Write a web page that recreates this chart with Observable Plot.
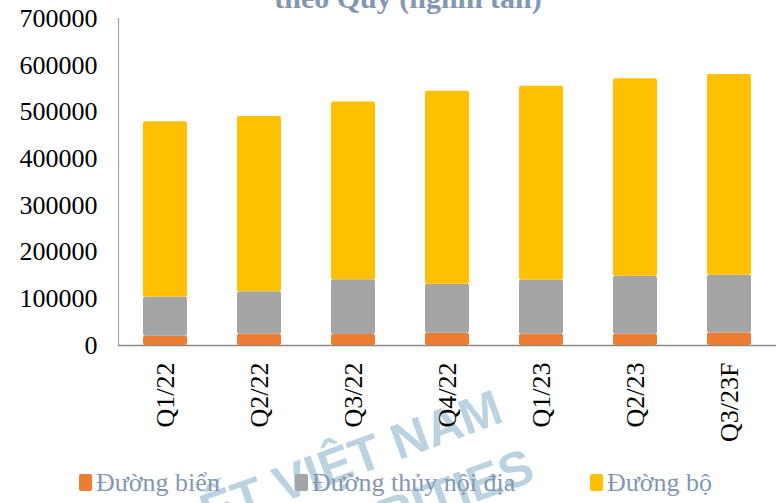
<!DOCTYPE html>
<html>
<head>
<meta charset="utf-8">
<script src="https://cdn.jsdelivr.net/npm/d3@7"></script>
<script src="https://cdn.jsdelivr.net/npm/@observablehq/plot@0.6"></script>
<style>
  html, body { margin: 0; padding: 0; background: #fff; }
  #wrap { position: relative; width: 784px; height: 503px; overflow: hidden; font-family: "Liberation Serif", "Times New Roman", serif; }
  #title { position: absolute; left: 0; width: 816px; top: -17px; line-height: 30px; text-align: center; font-size: 30px; font-weight: bold; color: #8497B0; white-space: nowrap; }
  #chart { position: absolute; left: 0; top: 0; }
  #wm { position: absolute; left: 0; top: 0; }
  #legend { position: absolute; left: 0; top: 0; width: 784px; height: 503px; pointer-events: none; }
  .li { position: absolute; top: 470px; font-size: 26px; line-height: 26px; color: #8497B0; white-space: nowrap; }
  .sw { position: absolute; top: 474px; width: 13px; height: 17px; border-radius: 2px; }
</style>
</head>
<body>
<div id="wrap">
  <svg id="wm" width="784" height="503" style="font-family:'Liberation Sans',Arial,sans-serif;font-weight:bold;font-size:50px;fill:#BBD3E0;">
    <text transform="translate(268,508) rotate(-20)" text-anchor="end">ẾT</text>
    <text transform="translate(281,503) rotate(-20)">VIỆT NAM</text>
    <text transform="translate(537,480) rotate(-20)" text-anchor="end">SECURITIES</text>
  </svg>
  <div id="chart"></div>
  <div id="title">theo Quý (nghìn tấn)</div>
  <div id="legend"></div>
</div>
<script>
const quarters = ["Q1/22", "Q2/22", "Q3/22", "Q4/22", "Q1/23", "Q2/23", "Q3/23F"];
const seriesNames = ["Đường biển", "Đường thủy nội địa", "Đường bộ"];
const seriesColors = ["#ED7D31", "#A5A5A5", "#FFC000"];
const duongBien = [20000, 24000, 23500, 26000, 24000, 24000, 27000];
const duongThuy = [84000, 91000, 117500, 105000, 116000, 124000, 123500];
const duongBo = [375000, 375000, 380000, 413000, 415000, 423000, 429500];
const yTicks = [0, 100000, 200000, 300000, 400000, 500000, 600000, 700000];

const seriesValues = [duongBien, duongThuy, duongBo];
const rows = [];
seriesNames.forEach((s, si) => {
  quarters.forEach((q, qi) => rows.push({quarter: q, series: s, value: seriesValues[si][qi]}));
});

const chart = Plot.plot({
  width: 784,
  height: 460,
  marginTop: 18,
  marginBottom: 115,
  marginLeft: 118,
  marginRight: 8,
  style: {background: "transparent", fontFamily: "Liberation Serif", fontSize: "26px", color: "#000"},
  x: {domain: quarters, paddingInner: 0.53, paddingOuter: 0.265, label: null},
  y: {domain: [0, 700000], label: null},
  color: {domain: seriesNames, range: seriesColors},
  marks: [
    Plot.axisY({ticks: yTicks, tickSize: 0, tickPadding: 21, tickFormat: d => String(d), label: null, fontSize: 26}),
    Plot.axisX({tickSize: 0, tickPadding: 17, tickRotate: -90, label: null, fontSize: 26}),
    Plot.frame({anchor: "left", stroke: "#A6A6A6", strokeWidth: 1.2}),
    Plot.ruleY([0], {stroke: "#898989", strokeWidth: 1.5}),
    Plot.barY(rows, {x: "quarter", y: "value", fill: "series", rx: 2, order: seriesNames})
  ]
});
document.getElementById("chart").appendChild(chart);

const legendPos = [{sw: 79, tx: 96}, {sw: 295, tx: 312}, {sw: 590, tx: 607}];
const legend = document.getElementById("legend");
seriesNames.forEach((s, i) => {
  const sw = document.createElement("div");
  sw.className = "sw";
  sw.style.left = legendPos[i].sw + "px";
  sw.style.background = seriesColors[i];
  legend.appendChild(sw);
  const t = document.createElement("div");
  t.className = "li";
  t.style.left = legendPos[i].tx + "px";
  t.textContent = s;
  legend.appendChild(t);
});
</script>
</body>
</html>
